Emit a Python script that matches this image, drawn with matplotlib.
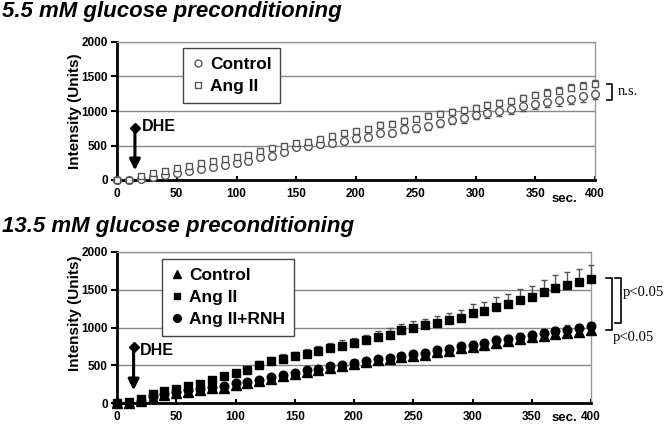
import numpy as np
import matplotlib
matplotlib.use("Agg")
import matplotlib.pyplot as plt
from matplotlib.lines import Line2D

plt.rcParams['font.family'] = ['Liberation Sans', 'DejaVu Sans']

# time points (sec.)
t = np.arange(0, 401, 10)

# 5.5 mM glucose preconditioning
ctrl_55 = [0, 0, 10, 39, 73, 106, 136, 160, 194, 218,
           242, 271, 329, 349, 412, 485, 494, 523, 533, 572,
           606, 630, 688, 688, 736, 751, 785, 833, 872, 896,
           945, 969, 993, 1027, 1066, 1105, 1124, 1153, 1177, 1211,
           1250]
ctrl_55_err = [0, 0, 5, 10, 15, 20, 20, 25, 25, 30,
               30, 35, 35, 40, 40, 40, 45, 45, 45, 50,
               50, 50, 55, 55, 55, 60, 60, 60, 60, 65,
               65, 65, 65, 70, 70, 70, 70, 75, 75, 75,
               75]
ang_55 = [0, 0, 54, 97, 131, 170, 203, 242, 276, 300,
          329, 363, 426, 460, 494, 543, 557, 591, 640, 678,
          703, 736, 800, 814, 858, 887, 930, 959, 983, 1017,
          1042, 1080, 1114, 1139, 1187, 1226, 1260, 1294, 1332, 1366,
          1390]
ang_55_err = [0, 0, 5, 5, 10, 10, 10, 15, 15, 15,
              20, 20, 20, 25, 25, 25, 30, 30, 30, 30,
              35, 35, 35, 35, 40, 40, 40, 40, 45, 45,
              45, 45, 50, 50, 50, 55, 55, 55, 60, 60,
              60]

# 13.5 mM glucose preconditioning
ctrl_135 = [0, 0, 20, 70, 100, 130, 150, 175, 195, 205,
            245, 260, 290, 320, 355, 380, 415, 440, 470, 490,
            515, 540, 565, 585, 610, 625, 640, 670, 695, 725,
            745, 770, 800, 820, 845, 870, 890, 915, 930, 945,
            965]
ctrl_135_err = [0, 0, 5, 10, 10, 15, 15, 20, 20, 20,
                25, 25, 25, 30, 30, 30, 30, 35, 35, 35,
                35, 40, 40, 40, 40, 40, 45, 45, 45, 45,
                45, 50, 50, 50, 50, 50, 55, 55, 55, 55,
                55]
ang_135 = [0, 10, 58, 115, 155, 190, 225, 257, 300, 358,
           398, 443, 509, 553, 588, 619, 655, 690, 734, 761,
           796, 831, 875, 907, 964, 1000, 1030, 1066, 1097, 1128,
           1194, 1216, 1265, 1305, 1362, 1398, 1472, 1525, 1561, 1601,
           1637]
ang_135_err = [0, 0, 10, 15, 20, 25, 25, 30, 35, 40,
               45, 50, 50, 55, 55, 60, 60, 65, 65, 70,
               70, 75, 75, 80, 80, 85, 85, 90, 100, 110,
               120, 125, 135, 140, 145, 150, 160, 170, 175, 180,
               190]
rnh_135 = [0, 0, 30, 88, 115, 146, 168, 190, 212, 221,
           265, 278, 309, 345, 376, 398, 434, 456, 487, 504,
           531, 557, 584, 602, 628, 646, 663, 699, 721, 752,
           774, 796, 831, 849, 875, 902, 924, 955, 973, 987,
           1017]
rnh_135_err = [0, 0, 5, 10, 10, 10, 15, 15, 15, 20,
               20, 20, 25, 25, 25, 25, 30, 30, 30, 30,
               35, 35, 35, 35, 40, 40, 40, 40, 45, 45,
               45, 45, 50, 50, 50, 50, 55, 55, 55, 60,
               60]

yticks = [0, 500, 1000, 1500, 2000]
xticks = np.arange(0, 401, 50)

W, H = 665, 424
fig = plt.figure(figsize=(W / 100, H / 100), dpi=100)
zeros = np.zeros(len(t))


def px_axes(left, right, top, bottom):
    return fig.add_axes([left / W, 1 - bottom / H, (right - left) / W, (bottom - top) / H])


def style(ax):
    ax.set_xlim(0, 400)
    ax.set_ylim(0, 2000)
    ax.set_yticks(yticks)
    ax.set_xticks(xticks)
    ax.yaxis.grid(True, color='#888888', lw=1)
    ax.set_axisbelow(True)
    for s in ['top', 'right']:
        ax.spines[s].set_color('#999999')
        ax.spines[s].set_linewidth(1)
    for s in ['left', 'bottom']:
        ax.spines[s].set_color('black')
        ax.spines[s].set_linewidth(2)
    ax.tick_params(axis='y', direction='out', length=4, width=1.5, pad=2.5, labelsize=8.5)
    ax.tick_params(axis='x', direction='in', length=3, width=1.5, pad=5.5, labelsize=8.5)
    for lab in ax.get_xticklabels() + ax.get_yticklabels():
        lab.set_fontweight('bold')


def legend(ax, handles, anchor):
    leg = ax.legend(handles=handles, loc='upper left', bbox_to_anchor=anchor, borderaxespad=0,
                    handlelength=0.7, handletextpad=0.35, labelspacing=0.4, borderpad=0.5,
                    fancybox=False, framealpha=1, edgecolor='#444444',
                    prop={'weight': 'bold', 'size': 12.5})
    leg.get_frame().set_linewidth(1)
    return leg


def dhe(ax, x, y_top, y_bot, y_text):
    ax.annotate('', xy=(x, y_bot), xytext=(x, y_top),
                arrowprops=dict(arrowstyle='-|>', color='black', lw=2.2, mutation_scale=16,
                                shrinkA=0, shrinkB=0))
    ax.plot([x], [y_top], marker='D', color='black', ms=5.5)
    ax.text(x + 5.5, y_text, 'DHE', fontsize=11.5, fontweight='bold', va='center', ha='left')


# ---- top panel
ax1 = px_axes(117, 595, 42, 180)
style(ax1)
ax1.errorbar(t, ctrl_55, yerr=[ctrl_55_err, zeros], fmt='o', ms=5.5, mfc='white',
             mec='#555555', mew=1, ecolor='#555555', elinewidth=1, capsize=2.5,
             clip_on=False, zorder=3)
ax1.errorbar(t, ang_55, yerr=[zeros, ang_55_err], fmt='s', ms=5, mfc='white',
             mec='#555555', mew=1, ecolor='#555555', elinewidth=1, capsize=2.5,
             clip_on=False, zorder=3)
legend(ax1, [Line2D([], [], ls='none', marker='o', ms=5, mfc='white', mec='#555555', label='Control'),
             Line2D([], [], ls='none', marker='s', ms=5, mfc='white', mec='#555555', label='Ang II')],
       (0.138, 0.957))
dhe(ax1, 15, 756, 140, 770)
fig.text(564 / W, 1 - 199 / H, 'sec.', fontsize=9.5, fontweight='bold', ha='center', va='center')
# n.s. bracket
ax1.plot([410, 414, 414, 410], [1395, 1395, 1163, 1163], color='black', lw=1.2, clip_on=False)
ax1.text(419, 1280, 'n.s.', family='Liberation Serif', fontsize=10.5, va='center')

# ---- bottom panel
ax2 = px_axes(117, 591, 252, 403)
style(ax2)
ax2.errorbar(t, ctrl_135, yerr=[ctrl_135_err, zeros], fmt='^', ms=6.5, color='black',
             ecolor='#555555', elinewidth=1, capsize=2.5, clip_on=False, zorder=3)
ax2.errorbar(t, ang_135, yerr=[zeros, ang_135_err], fmt='s', ms=5.8, color='black',
             ecolor='#555555', elinewidth=1, capsize=2.5, clip_on=False, zorder=3)
ax2.errorbar(t, rnh_135, yerr=[zeros, rnh_135_err], fmt='o', ms=6.2, color='black',
             ecolor='#555555', elinewidth=1, capsize=2.5, clip_on=False, zorder=4)
legend(ax2, [Line2D([], [], ls='none', marker='^', ms=6, color='black', label='Control'),
             Line2D([], [], ls='none', marker='s', ms=5, color='black', label='Ang II'),
             Line2D([], [], ls='none', marker='o', ms=5.5, color='black', label='Ang II+RNH')],
       (0.095, 0.954))
dhe(ax2, 14, 743, 168, 700)
fig.text(564 / W, 1 - 418 / H, 'sec.', fontsize=9.5, fontweight='bold', ha='center', va='center')
# p<0.05 brackets
ax2.plot([413, 418, 418, 413], [1654, 1654, 962, 962], color='black', lw=1.2, clip_on=False)
ax2.plot([420, 425, 425, 420], [1654, 1654, 1057, 1057], color='black', lw=1.2, clip_on=False)
ax2.text(427, 1464, 'p<0.05', family='Liberation Serif', fontsize=10.5, va='center')
ax2.text(418, 870, 'p<0.05', family='Liberation Serif', fontsize=10.5, va='center')

# titles and y labels
fig.text(2 / W, 1 - 12 / H, '5.5 mM glucose preconditioning', fontsize=16,
         fontweight='bold', fontstyle='italic', va='center', ha='left')
fig.text(2 / W, 1 - 226 / H, '13.5 mM glucose preconditioning', fontsize=16,
         fontweight='bold', fontstyle='italic', va='center', ha='left')
fig.text(75 / W, 1 - 111 / H, 'Intensity (Units)', fontsize=11, fontweight='bold',
         rotation=90, va='center', ha='center')
fig.text(75 / W, 1 - 313 / H, 'Intensity (Units)', fontsize=11, fontweight='bold',
         rotation=90, va='center', ha='center')

fig.savefig('out.png', dpi=100)
